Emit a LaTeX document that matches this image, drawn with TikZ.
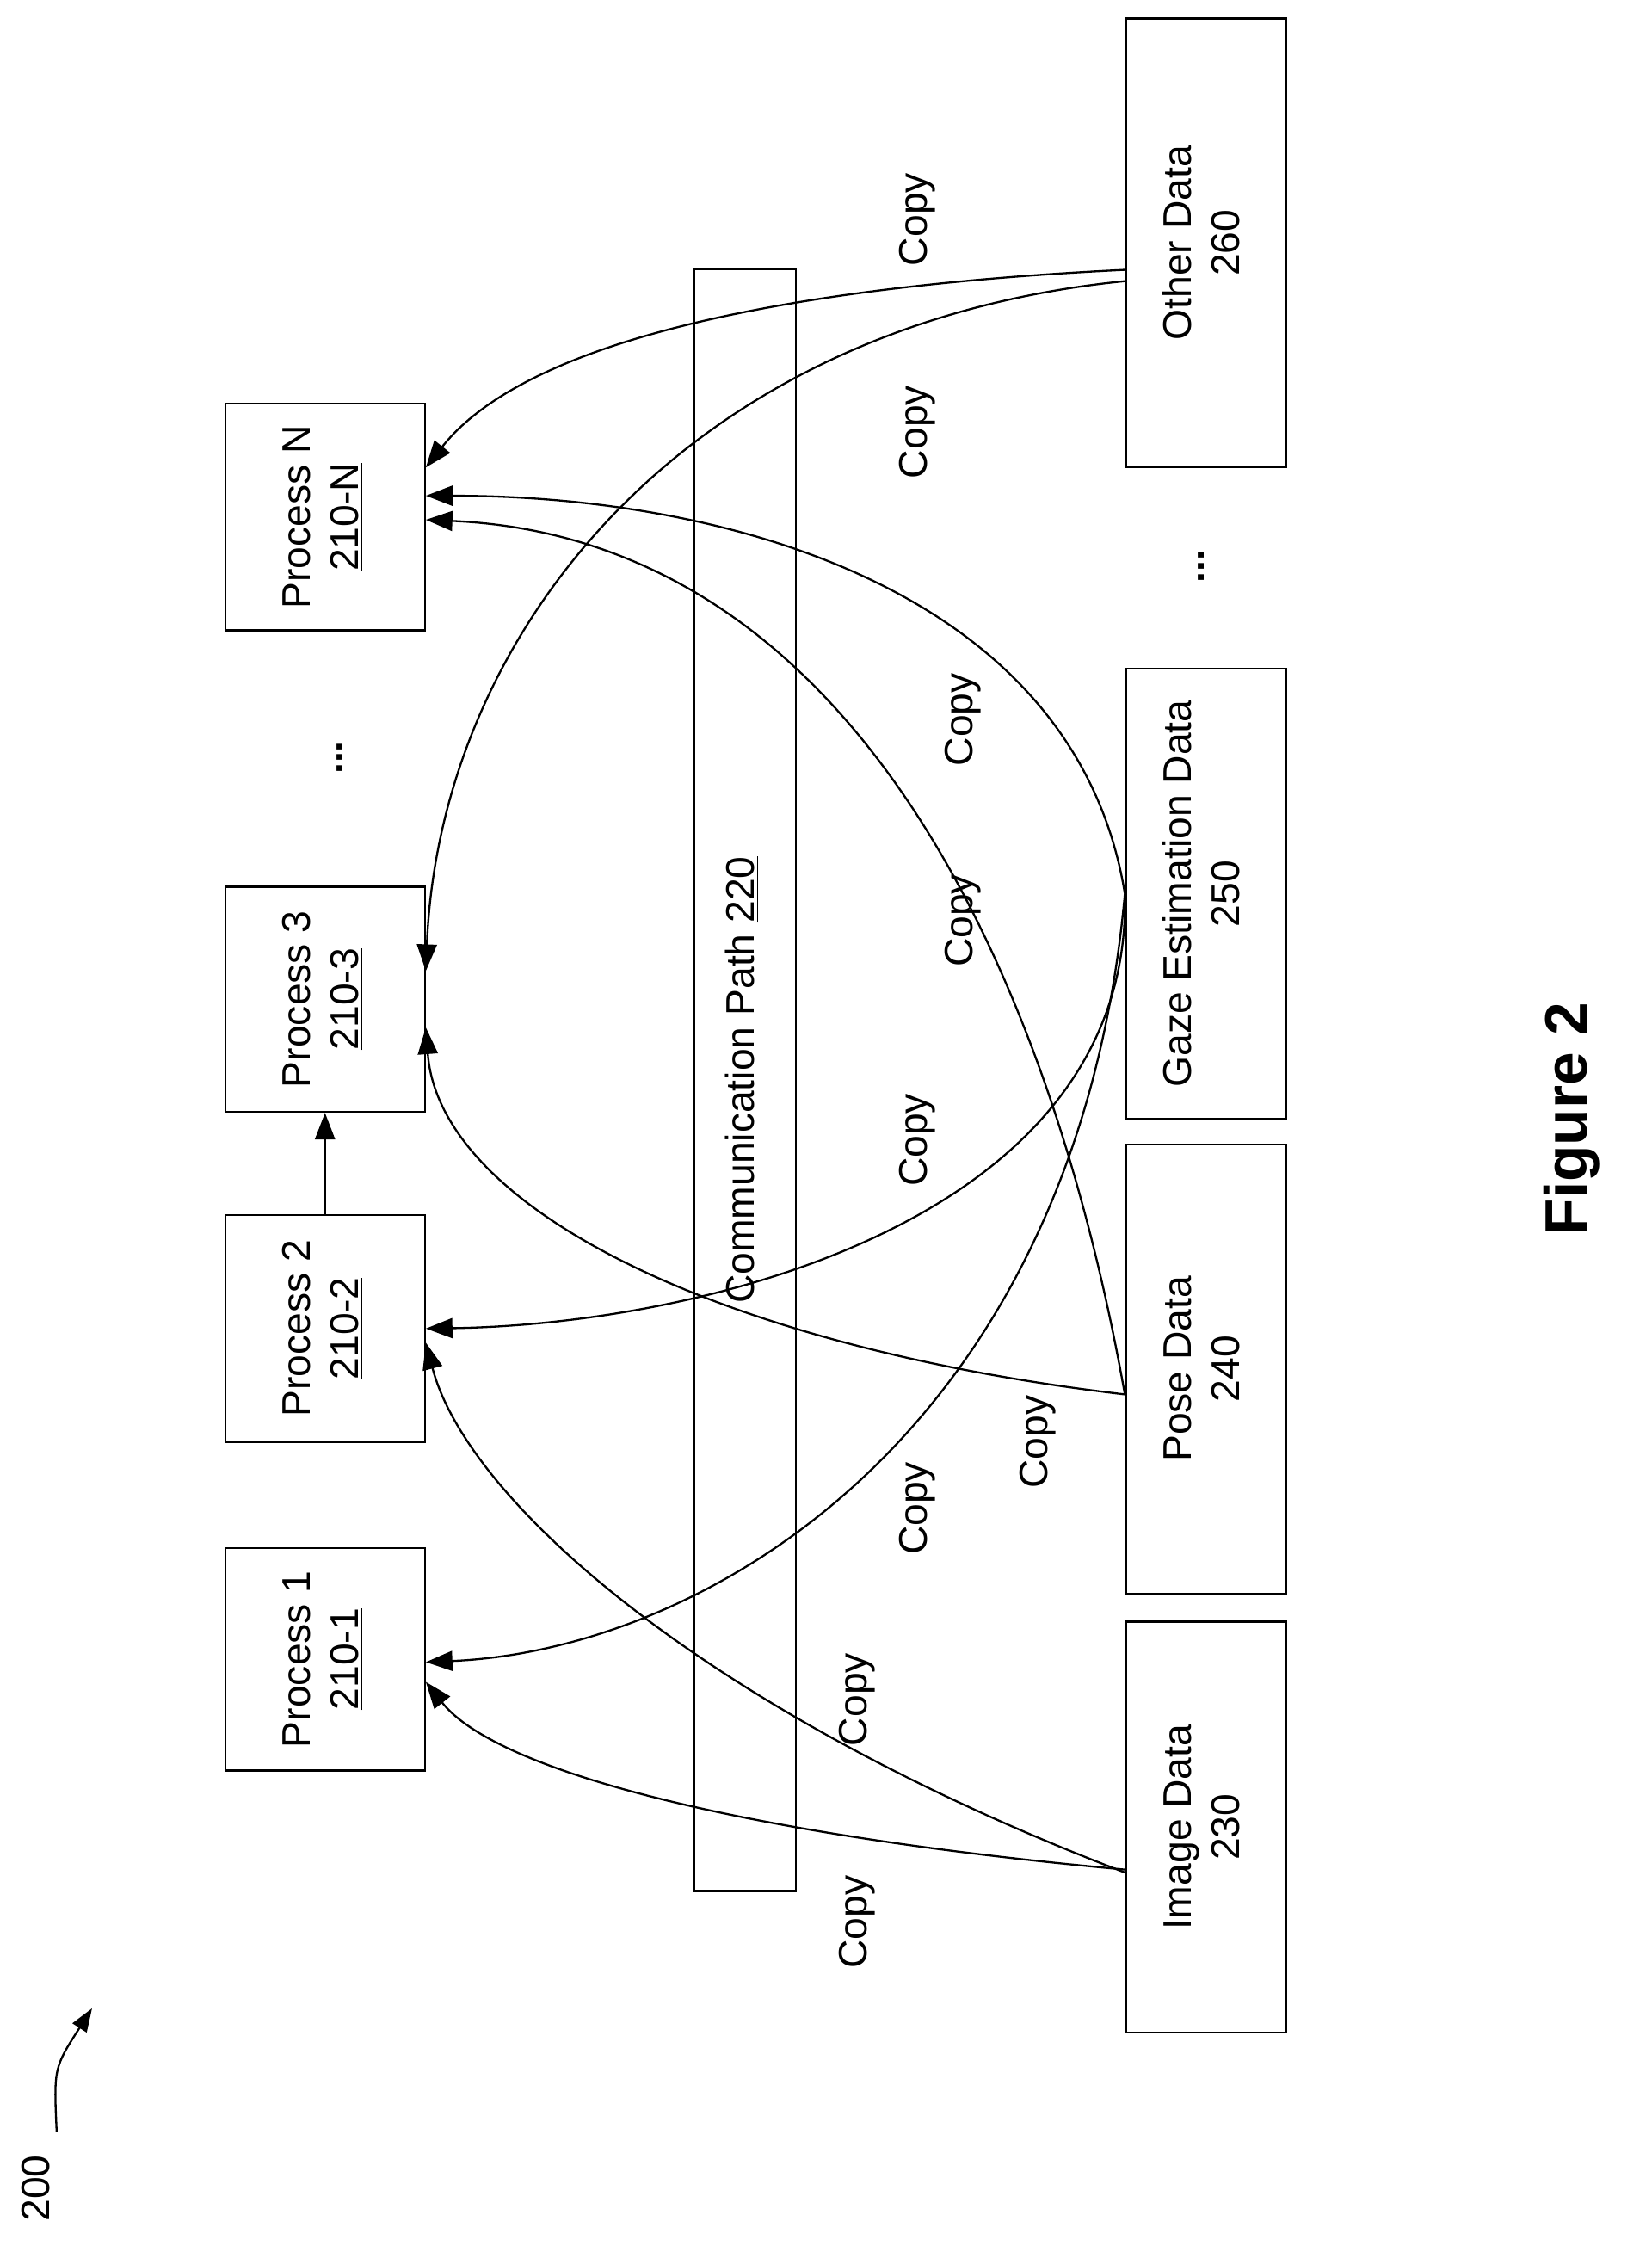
\documentclass[tikz,border=0pt]{standalone}
\usepackage{fontspec}
\setmainfont{Liberation Sans}
\usetikzlibrary{calc,arrows.meta}
\begin{document}
\begin{tikzpicture}[x=0.03cm,y=-0.03cm,
  box/.style={draw,line width=1.2pt,inner sep=0pt,font=\fontsize{24}{29}\selectfont},
  lbl/.style={rotate=90,font=\fontsize{24}{29}\selectfont},
  arr/.style={line width=1.2pt,-{Triangle[length=16pt,width=12pt]}}]
\useasboundingbox (0,0) rectangle (1166,1590);
\newcommand{\rt}[1]{\rotatebox{90}{\begin{tabular}{c}#1\end{tabular}}}
\node[box,minimum width=4.23cm,minimum height=4.71cm] (p1) at (229.5,1171.5) {\rt{Process 1\\\underline{210-1}}};
\node[box,minimum width=4.23cm,minimum height=4.8cm] (p2) at (229.5,938) {\rt{Process 2\\\underline{210-2}}};
\node[box,minimum width=4.23cm,minimum height=4.77cm] (p3) at (229.5,705.5) {\rt{Process 3\\\underline{210-3}}};
\node[box,minimum width=4.23cm,minimum height=4.8cm] (pn) at (229.5,365) {\rt{Process N\\\underline{210-N}}};
\node[box,minimum width=2.16cm,minimum height=34.35cm] (cp) at (526,762.5) {\rt{Communication Path \underline{220}}};
\node[box,minimum width=3.39cm,minimum height=8.7cm] (img) at (851.5,1290) {\rt{Image Data\\\underline{230}}};
\node[box,minimum width=3.39cm,minimum height=9.51cm] (pose) at (851.5,966.5) {\rt{Pose Data\\\underline{240}}};
\node[box,minimum width=3.39cm,minimum height=9.54cm] (gaze) at (851.5,631) {\rt{Gaze Estimation Data\\\underline{250}}};
\node[box,minimum width=3.39cm,minimum height=9.51cm] (oth) at (851.5,171.5) {\rt{Other Data\\\underline{260}}};
\node[lbl,font=\bfseries\fontsize{24}{29}\selectfont] (d1) at (240,535) {...};
\node[lbl,font=\bfseries\fontsize{24}{29}\selectfont] (d2) at (848,400) {...};
\node[lbl,font=\bfseries\fontsize{36}{40}\selectfont] (fig) at (1110,790) {Figure 2};
\node[lbl] (n200) at (25,1545) {200};
\coordinate (a200) at (65,1418);
\draw[line width=1.2pt,-{Triangle[length=14pt,width=10pt]}] (40,1505) .. controls (38,1460) .. (a200);
\draw[arr] (p2.north) -- (p3.south);
% curves
\draw[arr] ($(img.west)+(0,30)$) .. controls (520,1295) and (350,1250) .. ($(p1.east)+(0,16)$);
\draw[arr] ($(img.west)+(0,32)$) .. controls (500,1210) and (330,1060) .. ($(p2.east)+(0,10)$);
\draw[arr] ($(pose.west)+(0,18)$) .. controls (500,950) and (310,850) .. ($(p3.east)+(0,20)$);
\draw[arr] ($(pose.west)+(0,18)$) .. controls (740,680) and (600,380) .. ($(pn.east)+(0,2)$);
\draw[arr] (gaze.west) .. controls (760,1010) and (500,1165) .. ($(p1.east)+(0,2)$);
\draw[arr] (gaze.west) .. controls (800,860) and (500,935) .. ($(p2.east)+(0,0)$);
\draw[arr] (gaze.west) .. controls (760,420) and (520,350) .. ($(pn.east)+(0,-15)$);
\draw[arr] ($(oth.west)+(0,19)$) .. controls (600,200) and (380,230) .. ($(pn.east)+(0,-35)$);
\draw[arr] ($(oth.west)+(0,27)$) .. controls (480,230) and (310,450) .. ($(p3.east)+(0,-20)$);
\foreach \i/\x/\y in {c1/605/1357,c2/605/1200,c3/733/1018,c4/648/1065,c5/648/805,c6/680/650,c7/680/508,c8/648/305,c9/648/155}
  \node[lbl] (\i) at (\x,\y) {Copy};
\end{tikzpicture}
\end{document}
